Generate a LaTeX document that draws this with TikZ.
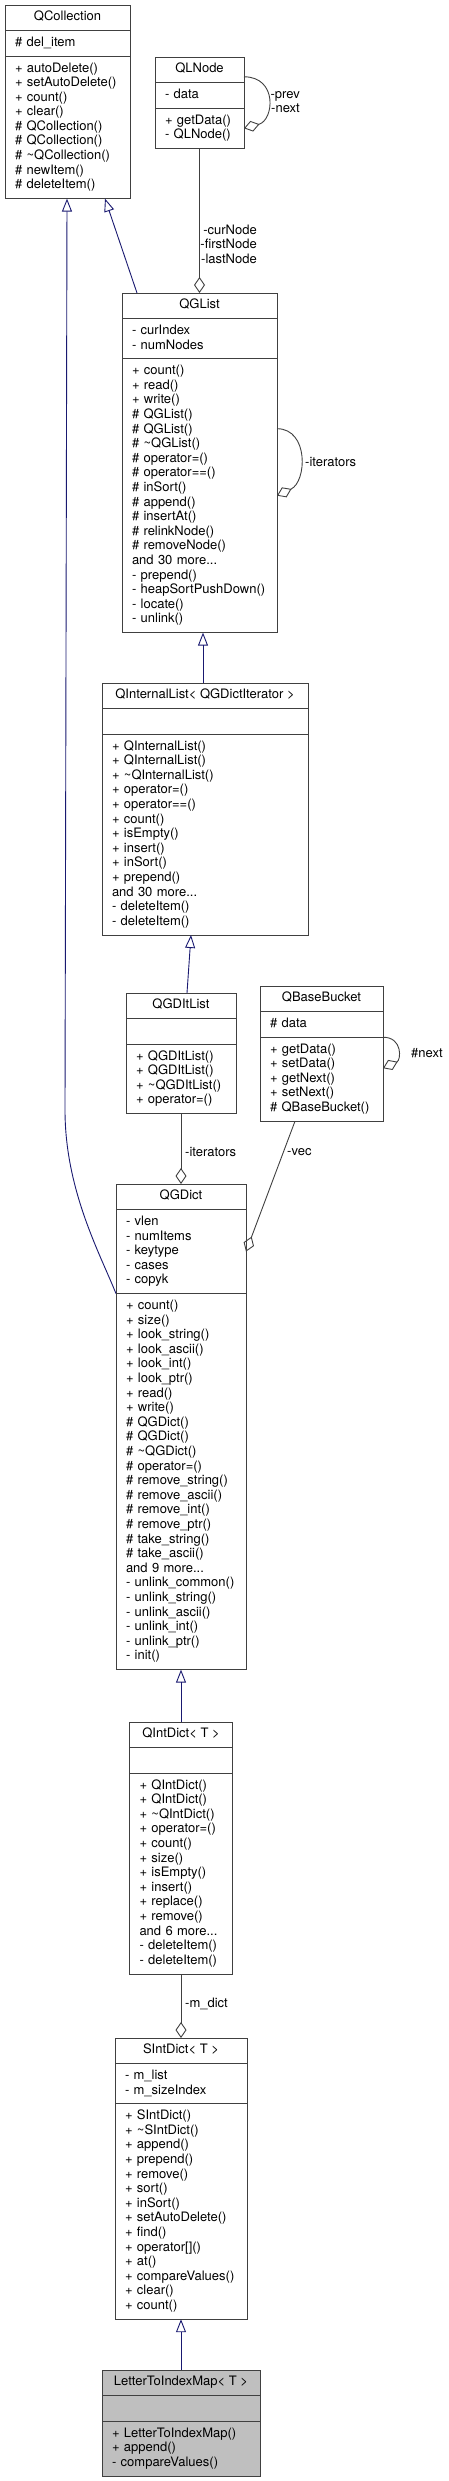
\documentclass[tikz,border=0pt]{standalone}
\usepackage{fontspec}
\setmainfont{TeX Gyre Heros}
\usepackage{xcolor}
\usepackage{tikz}
\usetikzlibrary{arrows.meta,positioning}
\definecolor{edgegray}{HTML}{404040}
\definecolor{inhblue}{HTML}{191970}
\definecolor{leafgray}{HTML}{BFBFBF}
\newcommand{\clsfont}{\fontsize{13}{14.6}\selectfont}
\newcommand{\clsstrut}{\vrule height 10.3pt depth 4.3pt width 0pt}
\begin{document}
\begin{tikzpicture}[
    x=1pt, y=-1pt,
    cls/.style={draw=edgegray, line width=0.9pt, fill=white, outer sep=0pt, inner xsep=10pt, inner ysep=5.5pt, font=\clsfont, execute at begin node=\clsstrut, execute at end node=\clsstrut},
    ttl/.style={cls, minimum width=#1pt, align=center, anchor=north west},
    part/.style={cls, text width=#1pt-20pt, align=left},
    lbl/.style={inner sep=0pt, font=\clsfont},
    inh/.style={draw=inhblue, line width=0.9pt, -{Triangle[open, length=13pt, width=10pt]}},
    agg/.style={draw=edgegray, line width=0.9pt, -{Diamond[open, length=16pt, width=11pt]}}
]
\useasboundingbox (0,0) rectangle (449,2481);

\node[ttl=125] (qcoll) at (5,5) {QCollection};
\node[part=125, below=0pt of qcoll] (qcoll-a) {\# del\_item};
\node[part=125, below=0pt of qcoll-a] (qcoll-m) {+ autoDelete()\\+ setAutoDelete()\\+ count()\\+ clear()\\\# QCollection()\\\# QCollection()\\\# \textasciitilde QCollection()\\\# newItem()\\\# deleteItem()};

\node[ttl=89] (qlnode) at (155,57) {QLNode};
\node[part=89, below=0pt of qlnode] (qlnode-a) {- data};
\node[part=89, below=0pt of qlnode-a] (qlnode-m) {+ getData()\\- QLNode()};

\node[ttl=155, below=144.6pt of qlnode-m] (qglist) {QGList};
\node[part=155, below=0pt of qglist] (qglist-a) {- curIndex\\- numNodes};
\node[part=155, below=0pt of qglist-a] (qglist-m) {+ count()\\+ read()\\+ write()\\\# QGList()\\\# QGList()\\\# \textasciitilde QGList()\\\# operator=()\\\# operator==()\\\# inSort()\\\# append()\\\# insertAt()\\\# relinkNode()\\\# removeNode()\\and 30 more...\\- prepend()\\- heapSortPushDown()\\- locate()\\- unlink()};

\node[ttl=206] (qilist) at (102,683) {QInternalList< QGDictIterator >};
\node[part=206, below=0pt of qilist] (qilist-a) {};
\node[part=206, below=0pt of qilist-a] (qilist-m) {+ QInternalList()\\+ QInternalList()\\+ \textasciitilde QInternalList()\\+ operator=()\\+ operator==()\\+ count()\\+ isEmpty()\\+ insert()\\+ inSort()\\+ prepend()\\and 30 more...\\- deleteItem()\\- deleteItem()};

\node[ttl=110] (qgditlist) at (126,993) {QGDItList};
\node[part=110, below=0pt of qgditlist] (qgditlist-a) {};
\node[part=110, below=0pt of qgditlist-a] (qgditlist-m) {+ QGDItList()\\+ QGDItList()\\+ \textasciitilde QGDItList()\\+ operator=()};

\node[ttl=123] (qbb) at (260,986) {QBaseBucket};
\node[part=123, below=0pt of qbb] (qbb-a) {\# data};
\node[part=123, below=0pt of qbb-a] (qbb-m) {+ getData()\\+ setData()\\+ getNext()\\+ setNext()\\\# QBaseBucket()};

\node[ttl=130, below=70.4pt of qgditlist-m] (qgdict) {QGDict};
\node[part=130, below=0pt of qgdict] (qgdict-a) {- vlen\\- numItems\\- keytype\\- cases\\- copyk};
\node[part=130, below=0pt of qgdict-a] (qgdict-m) {+ count()\\+ size()\\+ look\_string()\\+ look\_ascii()\\+ look\_int()\\+ look\_ptr()\\+ read()\\+ write()\\\# QGDict()\\\# QGDict()\\\# \textasciitilde QGDict()\\\# operator=()\\\# remove\_string()\\\# remove\_ascii()\\\# remove\_int()\\\# remove\_ptr()\\\# take\_string()\\\# take\_ascii()\\and 9 more...\\- unlink\_common()\\- unlink\_string()\\- unlink\_ascii()\\- unlink\_int()\\- unlink\_ptr()\\- init()};

\node[ttl=103, below=52.4pt of qgdict-m] (qintdict) {QIntDict< T >};
\node[part=103, below=0pt of qintdict] (qintdict-a) {};
\node[part=103, below=0pt of qintdict-a] (qintdict-m) {+ QIntDict()\\+ QIntDict()\\+ \textasciitilde QIntDict()\\+ operator=()\\+ count()\\+ size()\\+ isEmpty()\\+ insert()\\+ replace()\\+ remove()\\and 6 more...\\- deleteItem()\\- deleteItem()};

\node[ttl=132, below=64pt of qintdict-m] (sintdict) {SIntDict< T >};
\node[part=132, below=0pt of sintdict] (sintdict-a) {- m\_list\\- m\_sizeIndex};
\node[part=132, below=0pt of sintdict-a] (sintdict-m) {+ SIntDict()\\+ \textasciitilde SIntDict()\\+ append()\\+ prepend()\\+ remove()\\+ sort()\\+ inSort()\\+ setAutoDelete()\\+ find()\\+ operator[]()\\+ at()\\+ compareValues()\\+ clear()\\+ count()};

\node[ttl=158, fill=leafgray, below=50.8pt of sintdict-m] (ltim) {LetterToIndexMap< T >};
\node[part=158, fill=leafgray, below=0pt of ltim] (ltim-a) {};
\node[part=158, fill=leafgray, below=0pt of ltim-a] (ltim-m) {+ LetterToIndexMap()\\+ append()\\- compareValues()};

\node[lbl, anchor=east, align=right] (lbl-prev) at (300,102) {-prev\\-next};
\node[lbl, anchor=east, align=right] (lbl-cur) at (257,244) {-curNode\\-firstNode\\-lastNode};
\node[lbl, anchor=west] (lbl-iter) at (305,462) {-iterators};
\node[lbl, anchor=west] (lbl-next) at (411,1053) {\#next};
\node[lbl, anchor=west] (lbl-diter) at (185,1152) {-iterators};
\node[lbl, anchor=west] (lbl-vec) at (287,1152) {-vec};
\node[lbl, anchor=west] (lbl-mdict) at (185,2004) {-m\_dict};

\draw[inh] ([xshift=15pt]qglist.north west) -- ([xshift=100pt]qcoll-m.south west);
\draw[inh] (qgdict-a.south west) .. controls +(-16,-40) and +(0,80) .. (65,1110) -- ([xshift=62pt]qcoll-m.south west);
\draw[agg] (qlnode-m.south) -- (qglist.north);
\draw[agg] ([yshift=-7pt]qlnode.east) .. controls +(34,0) and +(30,-8) .. (qlnode-m.east);
\draw[agg] ([yshift=67pt]qglist-m.east) .. controls +(32,0) and +(30,-14) .. (qglist-m.east);
\draw[inh] ([xshift=-2pt]qilist.north) -- ([xshift=3.5pt]qglist-m.south);
\draw[inh] ([xshift=6pt]qgditlist.north) -- ([xshift=-14pt]qilist-m.south);
\draw[agg] (qgditlist-m.south) -- (qgdict.north);
\draw[agg] ([xshift=35pt]qbb-m.south west) -- (qgdict-a.east);
\draw[agg] (qbb-m.north east) .. controls +(20,0) and +(18,-8) .. ([yshift=11pt]qbb-m.east);
\draw[inh] (qintdict.north) -- (qgdict-m.south);
\draw[agg] (qintdict-m.south) -- (sintdict.north);
\draw[inh] (ltim.north) -- (sintdict-m.south);

\end{tikzpicture}
\end{document}
